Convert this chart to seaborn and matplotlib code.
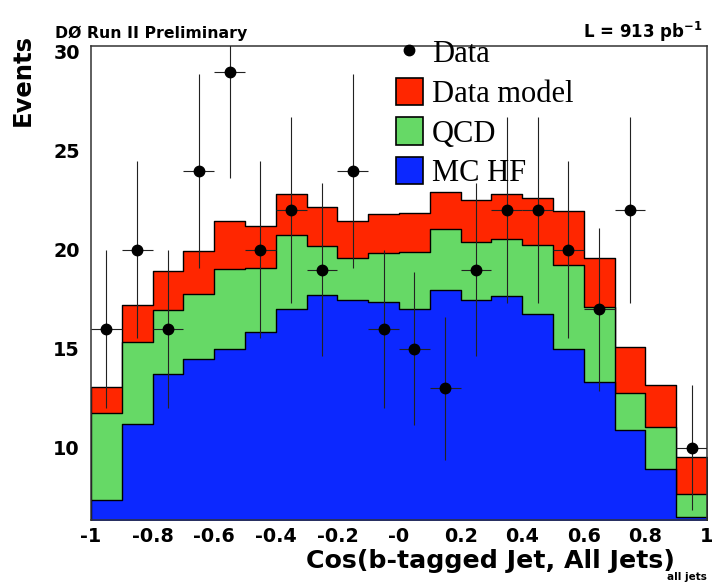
import numpy as np
import pandas as pd
import seaborn as sns
import matplotlib.pyplot as plt
from matplotlib.lines import Line2D
from matplotlib.patches import Patch
from matplotlib.ticker import MultipleLocator

# Data (20 bins from -1 to 1)
bin_edges = [round(-1 + 0.1 * i, 2) for i in range(21)]
bin_centers = [round(-0.95 + 0.1 * i, 2) for i in range(20)]

data_counts = [16, 20, 16, 24, 29, 20, 22, 19, 24, 16,
               15, 13, 19, 22, 22, 20, 17, 22, np.nan, 10]
data_errors = [4.0, 4.47, 4.0, 4.9, 5.39, 4.47, 4.69, 4.36, 4.9, 4.0,
               3.87, 3.61, 4.36, 4.69, 4.69, 4.47, 4.12, 4.69, np.nan, 3.16]

# stacked levels: MC HF, MC HF + QCD, full data model
mc_hf = [7.35, 11.2, 13.71, 14.49, 14.99, 15.82, 17.0, 17.69, 17.44, 17.35,
         17.0, 17.98, 17.47, 17.64, 16.75, 14.97, 13.34, 10.89, 8.9, 6.51]
hf_plus_qcd = [11.74, 15.36, 16.96, 17.77, 19.04, 19.07, 20.76, 20.2, 19.58, 19.83,
               19.87, 21.05, 20.37, 20.56, 20.22, 19.21, 17.13, 12.78, 11.03, 7.66]
model_total = [13.05, 17.22, 18.94, 19.92, 21.43, 21.18, 22.83, 22.16, 21.43, 21.82,
               21.85, 22.9, 22.5, 22.82, 22.61, 21.94, 19.58, 15.11, 13.14, 9.51]

x_ticks = [-1, -0.8, -0.6, -0.4, -0.2, 0, 0.2, 0.4, 0.6, 0.8, 1]
x_tick_labels = ['-1', '-0.8', '-0.6', '-0.4', '-0.2', '-0', '0.2', '0.4', '0.6', '0.8', '1']
y_ticks = [10, 15, 20, 25, 30]

colors = {'model': '#ff2600', 'qcd': '#66d966', 'hf': '#0c28ff'}

df = pd.DataFrame({'cos': bin_centers, 'model': model_total,
                   'qcd': hf_plus_qcd, 'hf': mc_hf})

sns.set_style('white')
plt.rcParams['font.family'] = ['DejaVu Sans']
plt.rcParams['mathtext.fontset'] = 'dejavusans'
plt.rcParams['text.color'] = 'black'
plt.rcParams['axes.labelcolor'] = 'black'
plt.rcParams['xtick.color'] = 'black'
plt.rcParams['ytick.color'] = 'black'

W, H = 714, 584
fig = plt.figure(figsize=(W / 100, H / 100), dpi=100)
ax = fig.add_axes([91 / W, 1 - 520 / H, 616 / W, 474 / H])

# Stacked histograms drawn on top of each other (ROOT style)
for key in ['model', 'qcd', 'hf']:
    sns.histplot(data=df, x='cos', weights=key, bins=bin_edges, element='step',
                 fill=True, color=colors[key], alpha=1, edgecolor='black',
                 linewidth=1.0, ax=ax)

# Data with error bars
ax.errorbar(bin_centers, data_counts, yerr=data_errors, xerr=0.05, fmt='o',
            color='black', ecolor='#222222', elinewidth=0.8, markersize=7.5,
            capsize=0, zorder=5)

ax.set_xlim(-1, 1)
ax.set_ylim(6.34, 30.3)
ax.set_xticks(x_ticks)
ax.set_xticklabels(x_tick_labels)
ax.set_yticks(y_ticks)
ax.xaxis.set_minor_locator(MultipleLocator(0.05))
ax.yaxis.set_minor_locator(MultipleLocator(1))
ax.tick_params(axis='both', which='both', direction='in', top=False, right=False,
               labelsize=13.8, width=1.0, color='#333333', labelcolor='black')
ax.tick_params(axis='x', which='major', length=10, pad=5)
ax.tick_params(axis='x', which='minor', length=5)
ax.tick_params(axis='y', which='major', length=11, pad=8)
ax.tick_params(axis='y', which='minor', length=5.5)
for lab in ax.get_xticklabels() + ax.get_yticklabels():
    lab.set_fontweight('bold')
for sp in ax.spines.values():
    sp.set_linewidth(1.1)
    sp.set_color('#333333')

ax.set_xlabel('Cos(b-tagged Jet, All Jets)', fontsize=18.2, fontweight='bold',
              ha='right', va='baseline')
ax.xaxis.set_label_coords((675 - 91) / 616, (520 - 568) / 474)
ax.text(1.0, (520 - 580) / 474, 'all jets', transform=ax.transAxes,
        ha='right', va='baseline', fontsize=7.5, fontweight='bold')
ax.set_ylabel('Events', fontsize=17.5, fontweight='bold', ha='right', va='center')
ax.yaxis.set_label_coords((23 - 91) / 616, (520 - 34) / 474)

fig.text(55 / W, 1 - 38 / H, 'DØ Run II Preliminary', ha='left', va='baseline',
         fontsize=11.3, fontweight='bold')
fig.text(703 / W, 1 - 38 / H, r'L = 913 pb$^{\mathbf{-1}}$', ha='right',
         va='baseline', fontsize=12, fontweight='bold')

handles = [
    Line2D([], [], marker='o', color='black', linestyle='none', markersize=7.5),
    Patch(facecolor=colors['model'], edgecolor='black', linewidth=1.2),
    Patch(facecolor=colors['qcd'], edgecolor='black', linewidth=1.2),
    Patch(facecolor=colors['hf'], edgecolor='black', linewidth=1.2),
]
labels = ['Data', 'Data model', 'QCD', 'MC HF']
leg = fig.legend(handles, labels, loc='upper left',
                 bbox_to_anchor=(396 / W, 1 - 38 / H), frameon=False,
                 prop={'family': 'Liberation Serif', 'size': 22},
                 handlelength=0.88, handleheight=1.0, handletextpad=0.3,
                 labelspacing=0.28, borderpad=0, borderaxespad=0)

fig.savefig('out.png', dpi=100)
